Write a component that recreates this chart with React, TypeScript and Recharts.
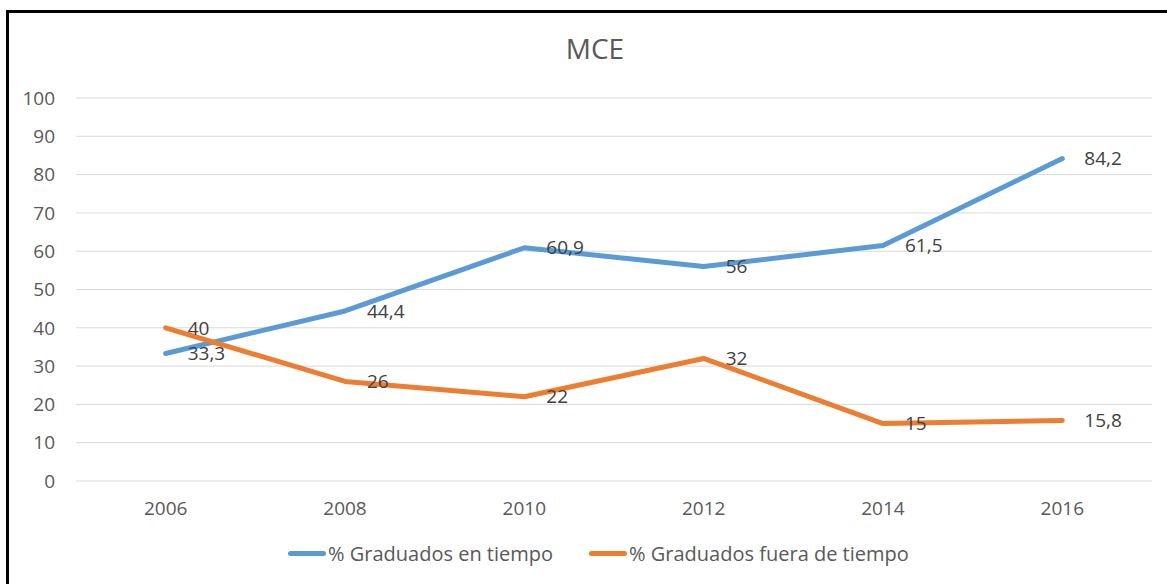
import { LineChart, Line, XAxis, YAxis, CartesianGrid, LabelList } from 'recharts'

const YEARS = ['2006', '2008', '2010', '2012', '2014', '2016']
const EN_TIEMPO = [33.3, 44.4, 60.9, 56, 61.5, 84.2]
const FUERA_TIEMPO = [40, 26, 22, 32, 15, 15.8]
const Y_TICKS = [0, 10, 20, 30, 40, 50, 60, 70, 80, 90, 100]

const BLUE = '#5B9BD5'
const ORANGE = '#ED7D31'
const FONT = '"Open Sans", sans-serif'

const data = YEARS.map((year, i) => ({
  year,
  enTiempo: EN_TIEMPO[i],
  fueraTiempo: FUERA_TIEMPO[i],
}))

// Excel-style decimal comma
const fmt = (v: unknown) => String(v).replace('.', ',')

const tickStyle = { fill: '#595959', fontSize: 19, fontFamily: FONT }
const labelStyle = { fill: '#404040', fontSize: 19, fontFamily: FONT }

function LegendItem({ color, text }: { color: string; text: string }) {
  return (
    <div style={{ display: 'flex', alignItems: 'center' }}>
      <div style={{ width: 38, height: 5, borderRadius: 3, background: color, marginRight: 2 }} />
      <span>{text}</span>
    </div>
  )
}

export default function App() {
  return (
    <div style={{ position: 'absolute', left: 0, top: 0, width: 1167, height: 584, background: '#fff', overflow: 'hidden' }}>
      <div
        style={{
          position: 'absolute',
          left: 6,
          top: 10,
          width: 1200,
          height: 600,
          borderTop: '3px solid #000',
          borderLeft: '3px solid #000',
        }}
      />
      <div
        style={{
          position: 'absolute',
          left: 495,
          width: 200,
          top: 29,
          textAlign: 'center',
          fontFamily: FONT,
          fontSize: 28,
          color: '#595959',
        }}
      >
        MCE
      </div>
      <div style={{ position: 'absolute', left: 0, top: 0 }}>
        <LineChart width={1167} height={584} data={data} margin={{ top: 98, right: 15, bottom: 73, left: 0 }}>
          <CartesianGrid vertical={false} stroke="#D9D9D9" strokeWidth={1} />
          <XAxis
            dataKey="year"
            height={30}
            padding={{ left: 89.67, right: 89.67 }}
            axisLine={false}
            tickLine={false}
            tickSize={6}
            tickMargin={15}
            tick={tickStyle}
          />
          <YAxis
            width={76}
            domain={[0, 100]}
            ticks={Y_TICKS}
            interval={0}
            axisLine={false}
            tickLine={false}
            tickSize={6}
            tickMargin={15}
            tick={tickStyle}
          />
          <Line
            dataKey="enTiempo"
            stroke={BLUE}
            strokeWidth={5}
            strokeLinecap="round"
            strokeLinejoin="round"
            dot={false}
            activeDot={false}
            isAnimationActive={false}
          />
          <Line
            dataKey="fueraTiempo"
            stroke={ORANGE}
            strokeWidth={5}
            strokeLinecap="round"
            strokeLinejoin="round"
            dot={false}
            activeDot={false}
            isAnimationActive={false}
          />
          {/* label-only series so every value sits on top of both lines */}
          <Line dataKey="enTiempo" stroke="none" dot={false} activeDot={false} isAnimationActive={false}>
            <LabelList dataKey="enTiempo" position="right" offset={22} formatter={fmt} style={labelStyle} />
          </Line>
          <Line dataKey="fueraTiempo" stroke="none" dot={false} activeDot={false} isAnimationActive={false}>
            <LabelList dataKey="fueraTiempo" position="right" offset={22} formatter={fmt} style={labelStyle} />
          </Line>
        </LineChart>
      </div>
      <div
        style={{
          position: 'absolute',
          left: 288,
          top: 540,
          display: 'flex',
          gap: 36,
          fontFamily: FONT,
          fontSize: 20,
          color: '#595959',
        }}
      >
        <LegendItem color={BLUE} text="% Graduados en tiempo" />
        <LegendItem color={ORANGE} text="% Graduados fuera de tiempo" />
      </div>
    </div>
  )
}
